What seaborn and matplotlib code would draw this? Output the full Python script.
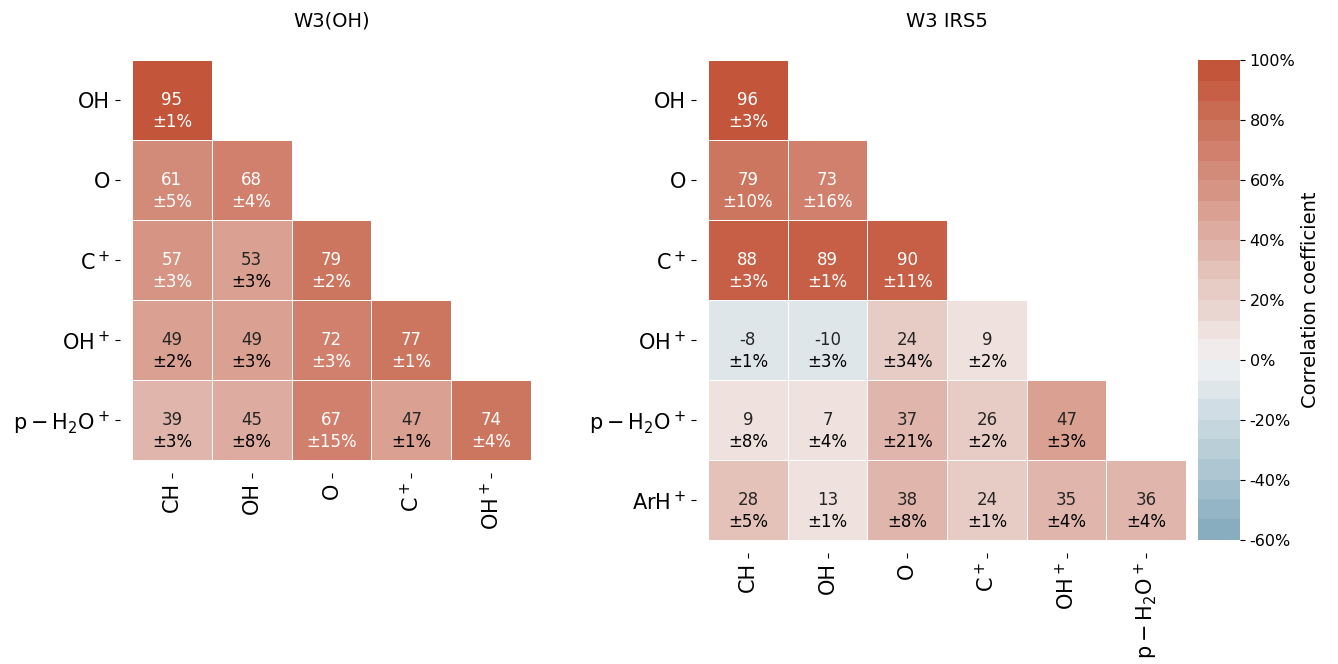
import numpy as np
import pandas as pd
import matplotlib
matplotlib.use("Agg")
import matplotlib.pyplot as plt
import seaborn as sns

plt.rcParams['font.family'] = 'DejaVu Sans'

# W3(OH)
w3oh_rows = ["OH", "O", "C$^+$", "OH$^+$", r"$\mathrm{p-H_2O^+}$"]
w3oh_cols = ["CH", "OH", "O", "C$^+$", "OH$^+$"]
w3oh_corr = [
    [95, 0, 0, 0, 0],
    [61, 68, 0, 0, 0],
    [57, 53, 79, 0, 0],
    [49, 49, 72, 77, 0],
    [39, 45, 67, 47, 74],
]
w3oh_err = [
    [1, 0, 0, 0, 0],
    [5, 4, 0, 0, 0],
    [3, 3, 2, 0, 0],
    [2, 3, 3, 1, 0],
    [3, 8, 15, 1, 4],
]

# W3 IRS5
irs5_rows = ["OH", "O", "C$^+$", "OH$^+$", r"$\mathrm{p-H_2O^+}$", "ArH$^+$"]
irs5_cols = ["CH", "OH", "O", "C$^+$", "OH$^+$", r"$\mathrm{p-H_2O^+}$"]
irs5_corr = [
    [96, 0, 0, 0, 0, 0],
    [79, 73, 0, 0, 0, 0],
    [88, 89, 90, 0, 0, 0],
    [-8, -10, 24, 9, 0, 0],
    [9, 7, 37, 26, 47, 0],
    [28, 13, 38, 24, 35, 36],
]
irs5_err = [
    [3, 0, 0, 0, 0, 0],
    [10, 16, 0, 0, 0, 0],
    [3, 1, 11, 0, 0, 0],
    [1, 3, 34, 2, 0, 0],
    [8, 4, 21, 2, 3, 0],
    [5, 1, 8, 1, 4, 4],
]

cmap = sns.diverging_palette(230, 20, n=30)
W, H = 1338, 664
fig = plt.figure(figsize=(W / 100, H / 100), dpi=100)


def px(x0, y0, x1, y1):
    return [x0 / W, 1 - y1 / H, (x1 - x0) / W, (y1 - y0) / H]


def draw(ax, corr, err, rows, cols, title, cbar_ax=None):
    df = pd.DataFrame(corr, index=rows, columns=cols).astype(float)
    mask = np.triu(np.ones(df.shape, dtype=bool), k=1)
    sns.heatmap(df, mask=mask, cmap=cmap, vmin=-60, vmax=100, center=0,
                annot=True, fmt=".0f", annot_kws={"fontsize": 12},
                linewidths=0.7, linecolor="white", ax=ax,
                cbar=cbar_ax is not None, cbar_ax=cbar_ax,
                cbar_kws={"format": "%d%%", "ticks": list(range(-60, 101, 20))})
    for t in list(ax.texts):
        x, y = t.get_position()
        i, j = int(y), int(x)
        c = "white" if t.get_color() == "w" else "black"
        ax.text(x, y + 0.28, "\u00b1%d%%" % err[i][j], ha="center", va="center",
                fontsize=12, color=c)
    ax.spines["left"].set_position(("outward", 9))
    ax.spines["bottom"].set_position(("outward", 9))
    ax.set_title(title, fontsize=14, pad=24)
    ax.tick_params(axis="both", labelsize=15)
    plt.setp(ax.get_xticklabels(), rotation=90)
    plt.setp(ax.get_yticklabels(), rotation=0)


ax1 = fig.add_axes(px(132, 60, 531, 460))
ax2 = fig.add_axes(px(708, 60, 1186, 540))
cax = fig.add_axes(px(1198, 60, 1240, 540))

draw(ax1, w3oh_corr, w3oh_err, w3oh_rows, w3oh_cols, "W3(OH)")
draw(ax2, irs5_corr, irs5_err, irs5_rows, irs5_cols, "W3 IRS5", cbar_ax=cax)

cax.tick_params(labelsize=11.5)
cax.set_ylabel("Correlation coefficient", fontsize=14)

fig.savefig("out.png", dpi=100)
